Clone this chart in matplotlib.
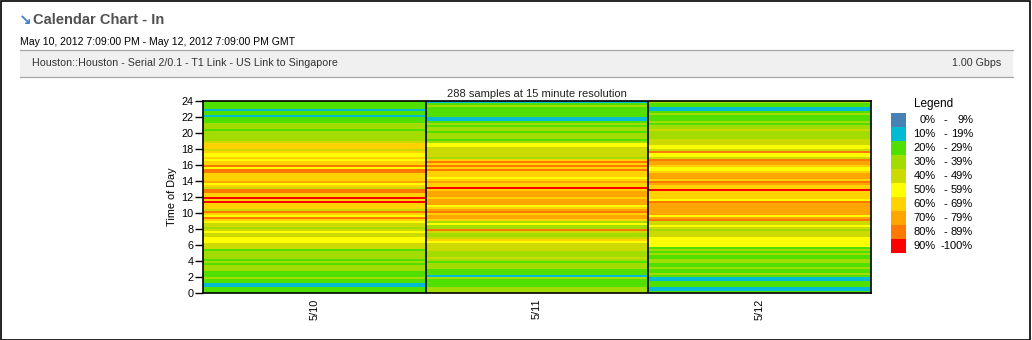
import numpy as np
import matplotlib
matplotlib.use("Agg")
import matplotlib.pyplot as plt
from matplotlib.colors import ListedColormap, BoundaryNorm
from matplotlib.patches import Rectangle

plt.rcParams["font.family"] = ["Liberation Sans", "DejaVu Sans"]

# utilisation (%) per 15-minute slot, listed from 23:45 (top) down to 00:00
util_5_10 = [
    25, 25, 25, 25, 15, 25, 25, 15,
    25, 25, 25, 35, 35, 35, 25, 35,
    35, 35, 35, 35, 45, 65, 65, 65,
    45, 65, 55, 55, 65, 55, 65, 65,
    85, 55, 85, 85, 65, 65, 65, 65,
    75, 55, 65, 45, 85, 85, 65, 65,
    95, 65, 95, 65, 65, 65, 45, 85,
    65, 55, 85, 65, 55, 45, 45, 35,
    45, 55, 45, 45, 55, 55, 55, 45,
    45, 45, 25, 35, 35, 35, 35, 25,
    35, 25, 35, 35, 35, 25, 25, 25,
    35, 25, 25, 15, 15, 25, 25, 25,
]
util_5_11 = [
    15, 25, 35, 25, 25, 25, 25, 25,
    15, 15, 25, 35, 25, 35, 35, 25,
    35, 35, 35, 25, 35, 55, 55, 45,
    45, 45, 45, 45, 35, 65, 85, 65,
    85, 65, 85, 65, 65, 65, 55, 65,
    75, 65, 65, 95, 65, 75, 75, 75,
    65, 75, 75, 75, 55, 65, 75, 85,
    65, 75, 75, 65, 35, 55, 35, 35,
    85, 45, 35, 35, 45, 65, 55, 45,
    45, 45, 45, 35, 35, 35, 45, 35,
    25, 35, 35, 35, 25, 25, 25, 15,
    35, 25, 25, 25, 25, 35, 35, 35,
]
util_5_12 = [
    35, 25, 25, 15, 15, 25, 35, 25,
    25, 25, 35, 25, 35, 35, 45, 35,
    35, 35, 35, 45, 45, 45, 55, 55,
    45, 85, 55, 55, 45, 85, 75, 75,
    65, 55, 55, 65, 75, 75, 75, 65,
    85, 75, 65, 65, 95, 65, 65, 65,
    65, 55, 85, 75, 75, 75, 75, 75,
    75, 55, 75, 85, 45, 45, 55, 45,
    35, 45, 45, 45, 55, 55, 55, 55,
    55, 25, 35, 25, 35, 25, 25, 35,
    35, 25, 25, 35, 25, 25, 35, 25,
    15, 15, 25, 25, 25, 15, 15, 25,
]
days = ["5/10", "5/11", "5/12"]

bin_edges = [0, 10, 20, 30, 40, 50, 60, 70, 80, 90, 100.01]
bin_labels = [("0%", "9%"), ("10%", "19%"), ("20%", "29%"), ("30%", "39%"),
              ("40%", "49%"), ("50%", "59%"), ("60%", "69%"), ("70%", "79%"),
              ("80%", "89%"), ("90%", "100%")]
bin_colors = ["#4682B4", "#00BCD2", "#50E000", "#A2DC00", "#CCDA00",
              "#FFFF00", "#FFD200", "#FFA500", "#FF7800", "#FF0000"]

W, H = 1032, 340


def fx(x):
    return x / W


def fy(y):
    return 1 - y / H


fig = plt.figure(figsize=(W / 100, H / 100), dpi=100)

# outer frame
fig.patches.append(Rectangle((0.0005, 0.001), 0.998, 0.997, transform=fig.transFigure,
                             fill=False, edgecolor="black", linewidth=1.2))

# header
fig.text(fx(19), fy(20), "\u2198", color="#3C82C8", fontsize=11, fontweight="bold",
         va="center", ha="left", family=["DejaVu Sans"])
fig.text(fx(33), fy(20), "Calendar Chart - In", color="#505050", fontsize=10.5,
         fontweight="bold", va="center", ha="left")
fig.text(fx(20), fy(42), "May 10, 2012 7:09:00 PM - May 12, 2012 7:09:00 PM GMT",
         fontsize=7.6, va="center", ha="left", color="black")
fig.patches.append(Rectangle((fx(20), fy(77)), fx(1013) - fx(20), fy(50) - fy(77),
                             transform=fig.transFigure, facecolor="#F0F0F0",
                             edgecolor="none"))
for yy in (50, 77):
    fig.add_artist(plt.Line2D([fx(20), fx(1013)], [fy(yy), fy(yy)],
                              transform=fig.transFigure, color="#A8A8A8", lw=0.9))
fig.text(fx(32), fy(63.5), "Houston::Houston - Serial 2/0.1 - T1 Link - US Link to Singapore",
         fontsize=7.7, va="center", ha="left", color="#333333")
fig.text(fx(1001), fy(63.5), "1.00 Gbps", fontsize=7.7, va="center", ha="right",
         color="#333333")

# heatmap
ax = fig.add_axes([fx(203), fy(293), fx(871) - fx(203), fy(101) - fy(293)])
Z = np.column_stack([util_5_10, util_5_11, util_5_12])
n_slots = Z.shape[0]
x_edges = np.arange(len(days) + 1)
y_edges = 24 - np.arange(n_slots + 1) * 24 / n_slots
cmap = ListedColormap(bin_colors)
norm = BoundaryNorm(bin_edges, cmap.N)
ax.pcolormesh(x_edges, y_edges, Z, cmap=cmap, norm=norm, shading="flat")
for xv in x_edges[1:-1]:
    ax.axvline(xv, color="black", lw=1.2)
ax.set_xlim(0, len(days))
ax.set_ylim(0, 24)
ax.set_xticks(np.arange(len(days)) + 0.5)
ax.set_xticklabels(days, rotation=90, fontsize=7.8)
ax.tick_params(axis="x", length=0, pad=4)
ax.set_yticks(np.arange(0, 25, 2))
ax.tick_params(axis="y", length=6, width=1, pad=1, labelsize=7.8)
ax.set_ylabel("Time of Day", fontsize=7.8, labelpad=3)
ax.set_title("288 samples at 15 minute resolution", fontsize=8, pad=3, color="#222222")
for s in ax.spines.values():
    s.set_linewidth(1.2)

# legend
lax = fig.add_axes([0, 0, 1, 1], facecolor="none")
lax.set_xlim(0, W)
lax.set_ylim(H, 0)
lax.axis("off")
lax.text(934, 104.5, "Legend", fontsize=8.5, ha="center", va="center")
for i, (c, (lo, hi)) in enumerate(zip(bin_colors, bin_labels)):
    top = 112.5 + i * 14
    lax.add_patch(Rectangle((891, top), 14.5, 14, facecolor=c, edgecolor="none"))
    yc = top + 7.5
    lax.text(935.5, yc, lo, fontsize=8, ha="right", va="center")
    if len(hi) > 3:
        # the dash sits right against the three-digit upper bound
        lax.text(973, yc, "-" + hi, fontsize=8, ha="right", va="center")
    else:
        lax.text(945.5, yc, "-", fontsize=8, ha="center", va="center")
        lax.text(973, yc, hi, fontsize=8, ha="right", va="center")

fig.savefig("out.png", dpi=100)
